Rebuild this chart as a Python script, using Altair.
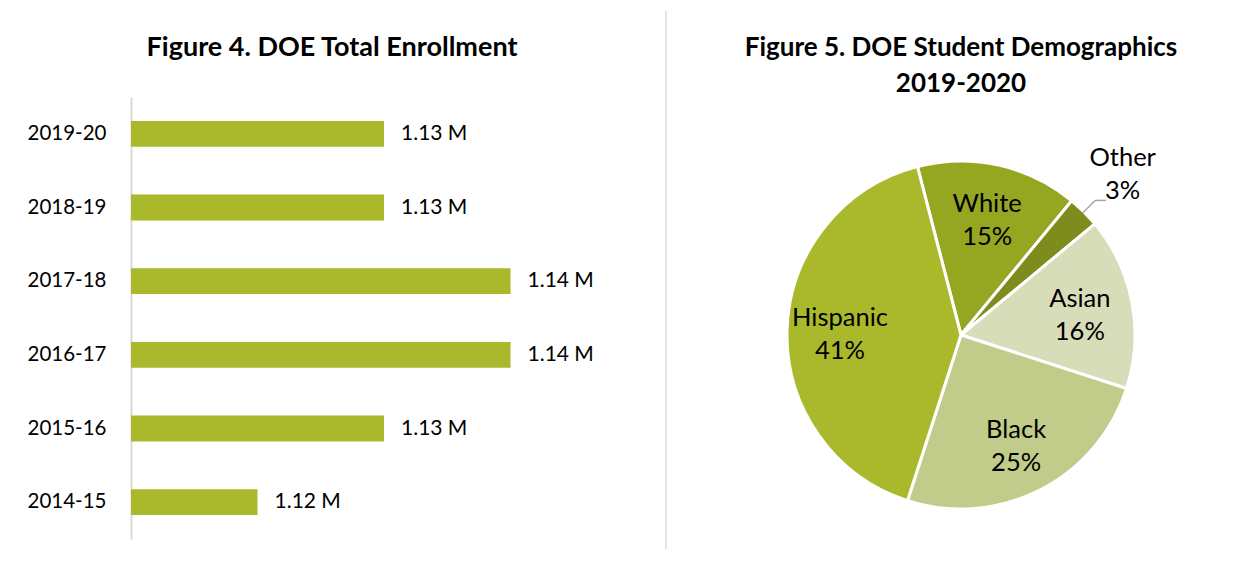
import math
import altair as alt
import pandas as pd

# ---------------- data ----------------
years = ["2019-20", "2018-19", "2017-18", "2016-17", "2015-16", "2014-15"]
enrollment_m = [1.13, 1.13, 1.14, 1.14, 1.13, 1.12]

groups = ["White", "Other", "Asian", "Black", "Hispanic"]
shares = [15, 3, 16, 25, 41]
group_colors = ["#95A621", "#7E8C1D", "#D7DDB8", "#C1CC8A", "#A9B92B"]

BAR_COLOR = "#A9B92B"
FONT = "Lato"

bar_df = pd.DataFrame({"year": years, "enroll": enrollment_m})
pie_df = pd.DataFrame({"group": groups, "share": shares, "idx": list(range(len(groups)))})

# ---------------- Figure 4: bars ----------------
ybar = alt.Y(
    "year:N",
    sort=years,
    scale=alt.Scale(paddingInner=0.65, paddingOuter=0.325),
    axis=alt.Axis(
        title=None, ticks=False, labelFontSize=20.5, labelPadding=25,
        labelColor="#000000", labelFont=FONT, domainColor="#D9D9D9", domainWidth=2,
    ),
)
xbar = alt.X("enroll:Q", scale=alt.Scale(domain=[1.11, 1.15], zero=False, clamp=True), axis=None)

bar_base = alt.Chart(bar_df).encode(y=ybar, x=xbar)
bars = bar_base.mark_bar(color=BAR_COLOR)
bar_text = bar_base.transform_calculate(
    lab="format(datum.enroll, '.2f') + ' M'"
).mark_text(align="left", dx=17, fontSize=21, font=FONT, color="#000000").encode(text="lab:N")

left = alt.layer(bars, bar_text).properties(
    width=506,
    height=442,
    title=alt.TitleParams(
        "Figure 4. DOE Total Enrollment", fontSize=27, font=FONT, fontWeight="bold",
        color="#000000", offset=35, anchor="middle", frame="bounds",
    ),
)

# ---------------- divider between the two figures ----------------
divider = alt.Chart(pie_df).mark_rule(color="#E3E3E3", strokeWidth=1).encode(
    x=alt.value(0), y=alt.value(-86), y2=alt.value(452)
).properties(width=36, height=440)

# ---------------- Figure 5: pie ----------------
START = math.radians(345.5)
CX, CY = 230, 238
theta = alt.Theta("share:Q", stack=True, scale=alt.Scale(range=[START, START + 2 * math.pi]))
order = alt.Order("idx:Q")
color = alt.Color("group:N", scale=alt.Scale(domain=groups, range=group_colors), legend=None)

pie_base = alt.Chart(pie_df).encode(theta=theta, order=order, x=alt.value(CX), y=alt.value(CY))

arcs = pie_base.mark_arc(outerRadius=174, stroke="white", strokeWidth=3).encode(color=color)

labelled = pie_base.transform_calculate(lab="datum.group + '\\n' + datum.share + '%'")
inner_text = labelled.mark_text(
    radius=121, dy=-13, fontSize=25.5, font=FONT, lineBreak="\n", lineHeight=33, color="#000000"
).encode(text=alt.condition("datum.group != 'Other'", alt.Text("lab:N"), alt.value("")))

# the small slice: label outside with a leader line, placed from the slice's mid angle
leader = (
    alt.Chart(pie_df)
    .transform_joinaggregate(total="sum(share)")
    .transform_window(cum="sum(share)", sort=[alt.SortField("idx")], frame=[None, 0])
    .transform_calculate(ang=f"{START} + 2*PI*(datum.cum - datum.share/2)/datum.total")
    .transform_filter("datum.group == 'Other'")
    .transform_calculate(
        x1=f"{CX} + 172*sin(datum.ang)", y1=f"{CY} - 172*cos(datum.ang)",
        x2=f"{CX} + 190*sin(datum.ang)", y2=f"{CY} - 190*cos(datum.ang)",
        xt=f"{CX} + 229*sin(datum.ang)", yt=f"{CY} - 229*cos(datum.ang)",
        lab="datum.group + '\\n' + datum.share + '%'",
    )
    .transform_calculate(x3="datum.x2 + 11")
)
leader1 = leader.mark_rule(color="#A6A6A6", strokeWidth=1.5).encode(
    x=alt.X("x1:Q", scale=None), y=alt.Y("y1:Q", scale=None),
    x2="x2:Q", y2="y2:Q",
)
leader2 = leader.mark_rule(color="#A6A6A6", strokeWidth=1.5).encode(
    x=alt.X("x2:Q", scale=None), y=alt.Y("y2:Q", scale=None),
    x2="x3:Q", y2="y2:Q",
)
outer_text = leader.mark_text(
    dy=-15, fontSize=25.5, font=FONT, lineBreak="\n", lineHeight=33, color="#000000"
).encode(x=alt.X("xt:Q", scale=None), y=alt.Y("yt:Q", scale=None), text="lab:N")

right = alt.layer(arcs, leader1, leader2, inner_text, outer_text).properties(
    width=460,
    height=440,
    title=alt.TitleParams(
        ["Figure 5. DOE Student Demographics", "2019-2020"], fontSize=26, font=FONT,
        fontWeight="bold", color="#000000", offset=0, anchor="middle", frame="group",
        lineHeight=36,
    ),
)

chart = (
    alt.hconcat(left, divider, right, spacing=27)
    .properties(padding={"left": 18, "top": 2, "right": 0, "bottom": 0}, background="white")
    .configure_view(stroke="transparent")
)

chart.save("out.html", embed_options={"renderer": "svg", "actions": False})
